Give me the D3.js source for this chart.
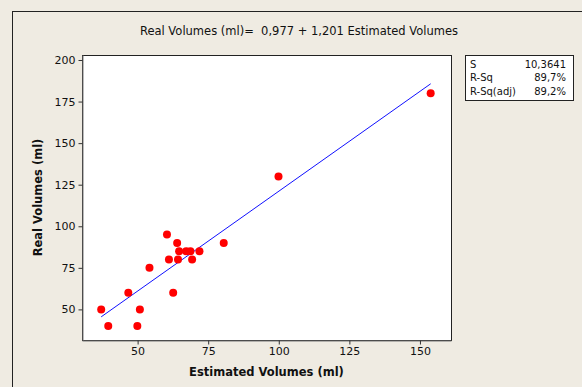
<!DOCTYPE html>
<meta charset="utf-8">
<style>
  body { margin: 0; background: #efebe2; }
  svg { display: block; }
  text { font-family: Tahoma, "DejaVu Sans", sans-serif; fill: #111; }
  .axis text { font-size: 11px; }
  .axis path { stroke: #777; }
  .axis line { stroke: #333; }
  .stats text { font-size: 10px; }
</style>
<svg width="582" height="387"></svg>
<script src="https://d3js.org/d3.v7.min.js"></script>
<script>
  // data
  var estimated = [37.1, 39.6, 46.7, 49.9, 50.8, 54.2, 60.4, 61.1, 62.6, 64.0,
                   64.7, 64.3, 67.2, 68.7, 69.3, 71.9, 80.5, 99.9, 153.8];
  var real = [50, 40, 60, 40, 50, 75, 95, 80, 60, 90,
              85, 80, 85, 85, 80, 85, 90, 130, 180];
  var intercept = 0.977, slope = 1.201;
  var xTicks = [50, 75, 100, 125, 150];
  var yTicks = [50, 75, 100, 125, 150, 175, 200];
  var statLabels = ["S", "R-Sq", "R-Sq(adj)"];
  var statValues = ["10,3641", "89,7%", "89,2%"];

  var svg = d3.select("svg");
  var plot = {left: 82, top: 55, right: 451, bottom: 340};

  // outer frame
  svg.append("rect")
    .attr("x", 12.5).attr("y", 11.5)
    .attr("width", 600).attr("height", 400)
    .attr("fill", "#efebe2")
    .attr("stroke", "#222");

  var x = d3.scaleLinear().domain([30.3, 161]).range([plot.left, plot.right]);
  var y = d3.scaleLinear().domain([31.6, 203]).range([plot.bottom, plot.top]);

  svg.append("rect")
    .attr("x", plot.left + 0.5).attr("y", plot.top + 0.5)
    .attr("width", plot.right - plot.left).attr("height", plot.bottom - plot.top)
    .attr("fill", "#fff")
    .attr("stroke", "#222");

  var data = estimated.map(function(d, i) { return {x: d, y: real[i]}; });

  // fitted line
  var x0 = d3.min(estimated), x1 = d3.max(estimated);
  svg.append("line")
    .attr("x1", x(x0)).attr("y1", y(intercept + slope * x0))
    .attr("x2", x(x1)).attr("y2", y(intercept + slope * x1))
    .attr("stroke", "#1010ff")
    .attr("stroke-width", 1);

  svg.append("g")
    .selectAll("circle")
    .data(data)
    .enter().append("circle")
    .attr("cx", function(d) { return x(d.x); })
    .attr("cy", function(d) { return y(d.y); })
    .attr("r", 4)
    .attr("fill", "#ff0000");

  //axes
  svg.append("g")
    .attr("class", "axis")
    .attr("transform", "translate(0," + (plot.bottom + 0.5) + ")")
    .call(d3.axisBottom(x).tickValues(xTicks).tickSize(4).tickSizeOuter(0).tickPadding(3));

  svg.append("g")
    .attr("class", "axis")
    .attr("transform", "translate(" + (plot.left + 0.5) + ",0)")
    .call(d3.axisLeft(y).tickValues(yTicks).tickSize(4).tickSizeOuter(0).tickPadding(3));

  svg.append("text")
    .attr("x", 299).attr("y", 35)
    .attr("text-anchor", "middle")
    .style("font-size", "11.5px")
    .style("white-space", "pre")
    .text("Real Volumes (ml)=  0,977 + 1,201 Estimated Volumes");

  svg.append("text")
    .attr("x", (plot.left + plot.right) / 2).attr("y", 376)
    .attr("text-anchor", "middle")
    .style("font-size", "11.5px")
    .style("font-weight", "bold")
    .text("Estimated Volumes (ml)");

  svg.append("text")
    .attr("transform", "translate(42," + (plot.top + plot.bottom) / 2 + ") rotate(-90)")
    .attr("text-anchor", "middle")
    .style("font-size", "11.5px")
    .style("font-weight", "bold")
    .text("Real Volumes (ml)");

  // stats box
  var stats = svg.append("g").attr("class", "stats");
  stats.append("rect")
    .attr("x", 465.5).attr("y", 55.5)
    .attr("width", 108).attr("height", 45)
    .attr("fill", "#fff")
    .attr("stroke", "#222");
  statLabels.forEach(function(s, i) {
    stats.append("text").attr("x", 470).attr("y", 67.5 + i * 13.5).text(s);
    stats.append("text").attr("x", 566).attr("y", 67.5 + i * 13.5)
      .attr("text-anchor", "end").text(statValues[i]);
  });
</script>
